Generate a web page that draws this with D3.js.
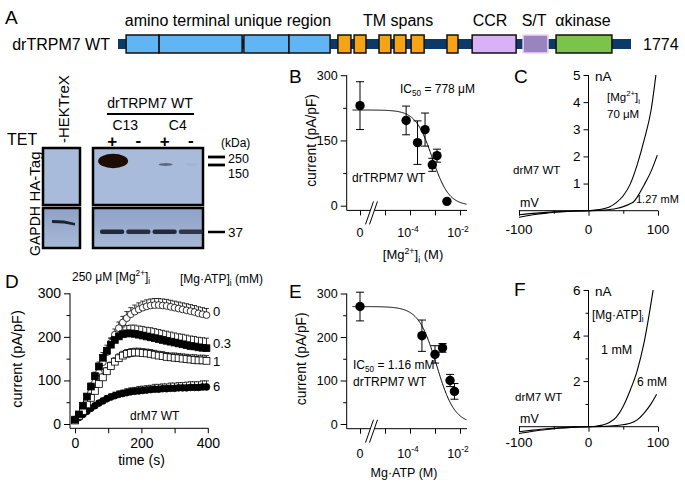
<!DOCTYPE html>
<html><head><meta charset="utf-8">
<script src="https://cdn.jsdelivr.net/npm/d3@7"></script>
<style>body{margin:0;background:#fff}svg{display:block}text{font-family:"Liberation Sans",Arial,Helvetica,sans-serif;fill:#000}</style>
</head><body><svg id="c" width="685" height="484"></svg>
<script>
// ================= DATA =================
// Panel A – domain map (residue numbers)
const proteinLength = 1774;
const domainLabels = ["amino terminal unique region","TM spans","CCR","S/T","\u03b1kinase"];
const domainLabelAt = [381, 969, 1287, 1439, 1608];
const nTermBlocks = [[29,143],[143,430],[436,592],[592,734]];
const tmBlocks = [[761,806],[817,858],[903,944],[955,996],[1014,1059],[1138,1176]];
const ccrBlock = [1225,1377];
const stBlock = [1401,1487];
const kinaseBlock = [1515,1708];
// Panel A – western blot
const blotLanes = ["C13+","C13-","C4+","C4-"];
const tetSigns = ["+","-","+","-"];
const cloneNames = ["C13","C4"];
const haIntensity = [1.0, 0.0, 0.35, 0.03];
const gapdhIntensity = [0.95, 0.9, 0.95, 0.85];
const kDaMarkers = ["250","150","37"];
// Panel B – [Mg2+]i dose response
const mgConc = [0, 7e-5, 2e-4, 4e-4, 7.8e-4, 1.2e-3, 3e-3];
const mgCurrent = [230, 196, 145, 175, 94, 115, 10];
const mgSEM = [55, 33, 50, 38, 15, 15, 0];
const mgFit = {IC50: 778e-6, Imax: 220, hill: 1.3};
// Panel E – Mg·ATP dose response
const atpConc = [0, 3e-4, 1e-3, 2e-3, 4e-3, 6e-3];
const atpCurrent = [270, 203, 160, 175, 100, 75];
const atpSEM = [33, 36, 20, 10, 14, 18];
const atpFit = {IC50: 1.16e-3, Imax: 270, hill: 1.2};
// Panel C – I/V curves (mV, nA)
const ivC70uM_V = [-100,-80,-60,-40,-20,0,10,20,30,40,50,60,70,80,90,97];
const ivC70uM_I = [-0.24,-0.15,-0.09,-0.05,-0.02,0,0.02,0.06,0.14,0.3,0.55,0.98,1.69,2.6,3.7,5.0];
const ivC127mM_V = [-100,-80,-60,-40,-20,0,20,40,50,60,65,70,80,90,99];
const ivC127mM_I = [-0.15,-0.1,-0.06,-0.03,-0.01,0,0.02,0.08,0.15,0.26,0.33,0.5,0.95,1.45,2.05];
// Panel F – I/V curves
const ivF1mM_V = [-100,-80,-60,-40,-20,0,10,20,30,40,50,60,70,80,93];
const ivF1mM_I = [-0.22,-0.15,-0.09,-0.05,-0.02,0,0.02,0.07,0.18,0.42,0.9,1.6,2.45,3.7,6.0];
const ivF6mM_V = [-100,-80,-60,-40,-20,0,20,40,60,70,80,90,98];
const ivF6mM_I = [-0.3,-0.2,-0.12,-0.06,-0.02,0,0.01,0.05,0.15,0.3,0.6,1.0,1.42];
// Panel D – time courses (s, pA/pF)
const timeS = [0,12,24,36,48,60,72,84,96,108,120,132,144,156,168,180,192,204,216,228,240,252,264,276,288,300,312,324,336,348,360,372,384,396];
const tcLabels = ["0","0.3","1","6"];
const tc0   = [10,20,35,52,72,95,118,142,165,186,205,220,233,243,252,258,263,267,270,272,273,273,272,271,269,267,265,263,261,259,257,254,252,250];
const tc0e  = [3,4,5,6,7,8,9,10,11,12,13,14,14,15,15,15,15,15,15,15,15,15,15,15,15,15,15,15,15,15,15,15,15,15];
const tc03  = [10,22,42,63,86,110,132,152,168,182,193,201,206,208,208,207,205,203,201,199,197,195,193,191,189,187,185,183,181,179,178,176,175,174];
const tc03e = [3,4,5,6,8,9,10,12,13,14,15,16,17,18,19,20,20,21,21,22,22,22,22,22,22,22,22,23,23,23,23,23,23,23];
const tc1   = [8,18,30,45,60,76,92,107,121,133,143,151,157,161,163,164,164,163,162,161,159,157,156,154,153,152,151,150,149,148,147,146,146,145];
const tc1e  = [2,3,4,5,5,6,7,8,8,9,9,10,10,10,10,10,10,10,10,10,10,10,10,10,10,11,11,11,11,11,12,12,12,12];
const tc6   = [10,15,22,29,36,42,48,53,58,62,65,68,70,72,74,75,76,77,78,79,80,80,81,81,82,82,83,83,83,84,84,84,85,85];
const tc6e  = [2,3,3,4,5,5,6,6,7,7,8,8,8,9,9,9,10,10,10,10,11,11,11,11,12,12,12,12,13,13,13,13,14,14];

// ================= HELPERS =================
const svg = d3.select("#c");
svg.append("rect").attr("width",685).attr("height",484).attr("fill","#fff");
function txt(g,x,y,s,o={}){
  const t=g.append("text").attr("x",x).attr("y",y).attr("font-size",o.size||13)
    .attr("text-anchor",o.anchor||"start").text(s);
  if(o.weight) t.attr("font-weight",o.weight);
  if(o.rotate) t.attr("transform",`rotate(${o.rotate},${x},${y})`);
  return t;
}
function rich(g,x,y,parts,o={}){
  const size=o.size||13;
  const t=g.append("text").attr("x",x).attr("y",y).attr("font-size",size).attr("text-anchor",o.anchor||"start");
  let cur=0;
  parts.forEach(p=>{
    const [s,k]=Array.isArray(p)?p:[p,null];
    const off=k==="sup"?-size*0.42:k==="sub"?size*0.28:0;
    t.append("tspan").attr("dy",off-cur).attr("font-size",k?size*0.68:size).text(s);
    cur=off;
  });
  if(o.rotate) t.attr("transform",`rotate(${o.rotate},${x},${y})`);
  return t;
}
function styleAxis(a,fs=13){
  a.attr("font-family",null).attr("font-size",null);
  a.select(".domain").remove();
  a.selectAll("line").attr("stroke","#000").attr("stroke-width",1);
  a.selectAll("text").attr("font-size",fs).attr("fill","#000");
  return a;
}
function line(g,x1,y1,x2,y2,w=1){
  g.append("line").attr("x1",x1).attr("y1",y1).attr("x2",x2).attr("y2",y2).attr("stroke","#000").attr("stroke-width",w);
}

// ================= PANEL A: domain map =================
const gA = svg.append("g");
txt(gA,5,24,"A",{size:19});
const xRes = d3.scaleLinear().domain([1,proteinLength]).range([118,631]);
const barY = 44;
gA.append("rect").attr("x",xRes(1)).attr("y",barY-5).attr("width",xRes(proteinLength)-xRes(1)).attr("height",10).attr("fill","#0b3a68");
function blocks(arr,fill,stroke="#111"){
  gA.selectAll(null).data(arr).enter().append("rect")
    .attr("x",d=>xRes(d[0])).attr("y",barY-9).attr("width",d=>xRes(d[1])-xRes(d[0])).attr("height",18)
    .attr("fill",fill).attr("stroke",stroke).attr("stroke-width",1.5);
}
blocks(nTermBlocks,"#62b5f4");
blocks(tmBlocks,"#f6a316");
blocks([ccrBlock],"#d8b1f6");
blocks([stBlock],"#9884bf","#f4d2f2");
blocks([kinaseBlock],"#7cc34c");
domainLabels.forEach((l,i)=>txt(gA,xRes(domainLabelAt[i]),26,l,{anchor:"middle",size:16}));
txt(gA,110,50,"drTRPM7 WT",{anchor:"end",size:16});
txt(gA,xRes(proteinLength)+12,50,String(proteinLength),{size:16});

// ================= PANEL A: western blot =================
const gW = svg.append("g");
const defs = svg.append("defs");
const gr = defs.append("linearGradient").attr("id","gapdhG").attr("x1",0).attr("y1",0).attr("x2",0).attr("y2",1);
gr.append("stop").attr("offset","0%").attr("stop-color","#8ea2c6");
gr.append("stop").attr("offset","100%").attr("stop-color","#a8b9d7");
defs.append("filter").attr("id","blur2").append("feGaussianBlur").attr("stdDeviation",0.7);

const blotRows = {ha:[148,205], gapdh:[208,248]};
const hekX=[43,80], rightX=[93,203];
[["ha","#a9bbda"],["gapdh","url(#gapdhG)"]].forEach(([k,f])=>{
  [hekX,rightX].forEach(xs=>{
    gW.append("rect").attr("x",xs[0]).attr("y",blotRows[k][0]).attr("width",xs[1]-xs[0]).attr("height",blotRows[k][1]-blotRows[k][0])
      .attr("fill",f).attr("stroke","#000").attr("stroke-width",2.5);
  });
});
const lane = d3.scaleBand().domain(blotLanes).range([99,204]);
const lc = l=>lane(l)+lane.bandwidth()/2;
// HA bands
gW.selectAll(null).data(blotLanes.filter((l,i)=>haIntensity[i]>0)).enter().append("ellipse")
  .attr("cx",l=>lc(l)+1).attr("cy",l=>{const v=haIntensity[blotLanes.indexOf(l)];return v>0.5?161:164.5;})
  .attr("rx",l=>{const v=haIntensity[blotLanes.indexOf(l)];return v>0.5?15:6+3*v;})
  .attr("ry",l=>{const v=haIntensity[blotLanes.indexOf(l)];return v>0.5?7.2:1.4;})
  .attr("fill",l=>haIntensity[blotLanes.indexOf(l)]>0.5?"#1f0c04":"#4a5068")
  .attr("opacity",l=>Math.min(1,haIntensity[blotLanes.indexOf(l)]*2.2))
  .attr("filter","url(#blur2)");
// GAPDH bands
gW.selectAll(null).data(blotLanes).enter().append("rect")
  .attr("x",l=>lane(l)+1).attr("y",229.5).attr("width",lane.bandwidth()-2).attr("height",4.5).attr("rx",2)
  .attr("fill","#1a2031").attr("opacity",(l,i)=>gapdhIntensity[i]).attr("filter","url(#blur2)");
gW.append("path").attr("d","M52,220 L64,220.5 L75,223 L75,225.5 L64,223.5 L52,223 Z").attr("fill","#1a2031").attr("filter","url(#blur2)");
// labels
txt(gW,68.5,143,"-HEKTreX",{rotate:-90,size:15});
txt(gW,39.5,176.5,"HA-Tag",{rotate:-90,anchor:"middle",size:15});
txt(gW,39.5,231,"GAPDH",{rotate:-90,anchor:"middle",size:14});
txt(gW,7,145,"TET",{size:16});
tetSigns.forEach((s,i)=>txt(gW,lc(blotLanes[i]),s==="+"?147:145.5,s,{anchor:"middle",size:17,weight:"bold"}));
txt(gW,150,108,"drTRPM7 WT",{anchor:"middle",size:14});
line(gW,107,114,194,114,2);
cloneNames.forEach((c,i)=>txt(gW,(lc(blotLanes[2*i])+lc(blotLanes[2*i+1]))/2,130,c,{anchor:"middle",size:14}));
txt(gW,221,147,"(kDa)",{size:12});
line(gW,208,157,225,157,2.8); line(gW,208,165,225,165,2.8);
txt(gW,228,163,kDaMarkers[0],{size:12.5});
txt(gW,228,177.5,kDaMarkers[1],{size:12.5});
line(gW,208,232,225,232,2.5);
txt(gW,228,237,kDaMarkers[2],{size:13.5});

// ================= PANELS B & E =================
function doseResponse(cfg){
  const g=svg.append("g");
  txt(g,cfg.letterX,cfg.letterY,cfg.letter,{size:19});
  const y=d3.scaleLinear().domain([0,300]).range([cfg.y0,cfg.y0-130.5]);
  const x=d3.scaleLog().domain([1e-6,1e-2]).range([360,460]);
  const axX=346.7, axY=cfg.y0+4.7, xEnd=x(10**-1.72);
  line(g,axX,y(300),axX,axY); line(g,axX,axY,xEnd,axY);
  styleAxis(g.append("g").attr("transform",`translate(${axX},0)`)
    .call(d3.axisLeft(y).tickValues(cfg.majY).tickSize(6).tickPadding(3).tickFormat(d3.format("d"))),12.5);
  styleAxis(g.append("g").attr("transform",`translate(${axX},0)`)
    .call(d3.axisLeft(y).tickValues(cfg.minY).tickSize(3.5).tickFormat("")));
  styleAxis(g.append("g").attr("transform",`translate(0,${axY})`)
    .call(d3.axisBottom(x).tickValues([1e-6,1e-5,1e-4,1e-3,1e-2]).tickSize(5).tickFormat("")));
  // axis break
  const bx=371.5;
  g.append("polygon").attr("points",`${bx-6},${axY+14} ${bx-2},${axY+14} ${bx+6},${axY-9} ${bx+2},${axY-9}`).attr("fill","#fff");
  line(g,bx-6,axY+14,bx+2,axY-9); line(g,bx-2,axY+14,bx+6,axY-9);
  // tick labels
  const ly=axY+cfg.tickLblDy;
  txt(g,x(1e-6),ly,"0",{anchor:"middle",size:12.5});
  rich(g,x(1e-4)-2,ly,["10",["-4","sup"]],{anchor:"middle",size:12.5});
  rich(g,x(1e-2)-2,ly,["10",["-2","sup"]],{anchor:"middle",size:12.5});
  rich(g,cfg.xLblX,cfg.xLblY,cfg.xLabel,{anchor:"middle",size:cfg.xLblSize});
  txt(g,cfg.yLblX,(y(0)+y(300))/2,"current (pA/pF)",{rotate:-90,anchor:"middle",size:13.8});
  // fit curve
  const logs=d3.range(-6.3,-1.72,0.02);
  const pts=logs.map(l=>{const c=10**l;return [x(c),y(cfg.fit.Imax/(1+Math.pow(c/cfg.fit.IC50,cfg.fit.hill)))];});
  g.append("path").attr("d",d3.line()(pts)).attr("fill","none").attr("stroke","#000").attr("stroke-width",1);
  // data
  const px=c=>c===0?x(1e-6):x(c);
  cfg.conc.forEach((c,i)=>{
    const e=cfg.sem[i];
    if(e>0){
      line(g,px(c),y(cfg.vals[i]-e),px(c),y(cfg.vals[i]+e));
      line(g,px(c)-4,y(cfg.vals[i]+e),px(c)+4,y(cfg.vals[i]+e));
      line(g,px(c)-4,y(cfg.vals[i]-e),px(c)+4,y(cfg.vals[i]-e));
    }
  });
  g.selectAll(null).data(cfg.conc).enter().append("circle")
    .attr("cx",px).attr("cy",(c,i)=>y(cfg.vals[i])).attr("r",4.7).attr("fill","#000");
  return g;
}
const gB=doseResponse({letter:"B",letterX:289,letterY:83,y0:205.7,majY:[0,150,300],minY:[75,225],
  conc:mgConc,vals:mgCurrent,sem:mgSEM,fit:mgFit,tickLblDy:27,xLblX:413,xLblY:259,xLblSize:13,yLblX:316.5,
  xLabel:["[Mg",["2+","sup"],"]",["i","sub"]," (M)"]});
rich(gB,400,93,["IC",["50","sub"]," = 778 \u03bcM"],{size:12});
txt(gB,352,182,"drTRPM7 WT",{size:12});
const gE=doseResponse({letter:"E",letterX:289,letterY:298,y0:424,majY:[0,100,200,300],minY:[50,150,250],
  conc:atpConc,vals:atpCurrent,sem:atpSEM,fit:atpFit,tickLblDy:29,xLblX:404,xLblY:477,xLblSize:12.5,yLblX:306,
  xLabel:["Mg\u00b7ATP (M)"]});
rich(gE,353,369,["IC",["50","sub"]," = 1.16 mM"],{size:12});
txt(gE,353,386,"drTRPM7 WT",{size:12});

// ================= PANELS C & F =================
function ivPanel(cfg){
  const g=svg.append("g");
  txt(g,514,cfg.letterY,cfg.letter,{size:19});
  const x=d3.scaleLinear().domain([-100,100]).range([519,658]);
  const y=d3.scaleLinear().domain([0,cfg.ymax]).range([cfg.y0,cfg.ytop]);
  line(g,x(-100),y(0),x(100),y(0)); line(g,x(0),y(cfg.ymax),x(0),y(0));
  styleAxis(g.append("g").attr("transform",`translate(${x(0)},0)`)
    .call(d3.axisLeft(y).tickValues(cfg.majY).tickSize(5).tickPadding(3).tickFormat(d3.format("d"))),13.5);
  if(cfg.minY) styleAxis(g.append("g").attr("transform",`translate(${x(0)},0)`)
    .call(d3.axisLeft(y).tickValues(cfg.minY).tickSize(3).tickFormat("")));
  styleAxis(g.append("g").attr("transform",`translate(0,${y(0)})`)
    .call(d3.axisBottom(x).tickValues([-100,0,100]).tickSize(5).tickFormat("")));
  styleAxis(g.append("g").attr("transform",`translate(0,${y(0)})`)
    .call(d3.axisBottom(x).tickValues([-50,50]).tickSize(3).tickFormat("")));
  [-100,0,100].forEach(v=>txt(g,x(v),y(0)+cfg.tickLblDy,String(v),{anchor:"middle",size:13.5}));
  txt(g,595,y(cfg.ymax)+6,"nA",{size:13.5});
  txt(g,520,y(0)-4,"mV",{size:12.5});
  const ln=d3.line().x(d=>x(d[0])).y(d=>y(d[1])).curve(d3.curveMonotoneX);
  cfg.curves.forEach(c=>{
    g.append("path").attr("d",ln(c[0].map((v,i)=>[v,c[1][i]]))).attr("fill","none").attr("stroke","#000").attr("stroke-width",1.1);
  });
  return g;
}
const gC=ivPanel({letter:"C",letterY:83,ymax:5,y0:210.7,ytop:75,majY:[1,2,3,4,5],tickLblDy:23,
  curves:[[ivC70uM_V,ivC70uM_I],[ivC127mM_V,ivC127mM_I]]});
rich(gC,607,101,["[Mg",["2+","sup"],"]",["i","sub"]],{size:11.5});
txt(gC,607,118,"70 \u03bcM",{size:11.5});
txt(gC,636,203,"1.27 mM",{size:11});
txt(gC,513,174,"drM7 WT",{size:11.5});
const gF=ivPanel({letter:"F",letterY:296,ymax:6,y0:426.7,ytop:290,majY:[2,4,6],minY:[1,3,5],tickLblDy:20,
  curves:[[ivF1mM_V,ivF1mM_I],[ivF6mM_V,ivF6mM_I]]});
rich(gF,592,319,["[Mg\u00b7ATP]",["i","sub"]],{size:12});
txt(gF,601,354,"1 mM",{size:12.5});
txt(gF,637,386,"6 mM",{size:12});
txt(gF,515,401,"drM7 WT",{size:11.5});

// ================= PANEL D =================
const gD=svg.append("g");
txt(gD,5,288,"D",{size:19});
const xD=d3.scaleLinear().domain([0,400]).range([75,207.8]);
const yD=d3.scaleLinear().domain([0,300]).range([424,293.3]);
const dAxX=70, dAxY=428.3;
line(gD,dAxX,yD(300),dAxX,dAxY); line(gD,dAxX,dAxY,208.5,dAxY);
styleAxis(gD.append("g").attr("transform",`translate(${dAxX},0)`)
  .call(d3.axisLeft(yD).tickValues([0,100,200,300]).tickSize(6).tickPadding(3).tickFormat(d3.format("d"))),14);
styleAxis(gD.append("g").attr("transform",`translate(${dAxX},0)`)
  .call(d3.axisLeft(yD).tickValues([50,150,250]).tickSize(3.5).tickFormat("")));
styleAxis(gD.append("g").attr("transform",`translate(0,${dAxY})`)
  .call(d3.axisBottom(xD).tickValues([0,200,400]).tickSize(5).tickPadding(5).tickFormat(d3.format("d"))),14);
styleAxis(gD.append("g").attr("transform",`translate(0,${dAxY})`)
  .call(d3.axisBottom(xD).tickValues([100,300]).tickSize(5).tickFormat("")));
txt(gD,141.5,465,"time (s)",{anchor:"middle",size:14});
txt(gD,22,359,"current (pA/pF)",{rotate:-90,anchor:"middle",size:14.5});
rich(gD,72,281,["250 \u03bcM [Mg",["2+","sup"],"]",["i","sub"]],{size:12});
rich(gD,180,283,["[Mg\u00b7ATP]",["i","sub"]," (mM)"],{size:12});
txt(gD,130,420,"drM7 WT",{size:12});
const seriesD=[
  {v:tc0,e:tc0e,shape:"circle",fill:"#fff",lblY:316},
  {v:tc03,e:tc03e,shape:"square",fill:"#000",lblY:348},
  {v:tc1,e:tc1e,shape:"square",fill:"#fff",lblY:366},
  {v:tc6,e:tc6e,shape:"circle",fill:"#000",lblY:391}];
// error bars (upward)
seriesD.forEach(s=>{
  timeS.forEach((t,i)=>{
    const xx=xD(t);
    line(gD,xx,yD(s.v[i]),xx,yD(s.v[i]+s.e[i]),0.8);
    line(gD,xx-2.5,yD(s.v[i]+s.e[i]),xx+2.5,yD(s.v[i]+s.e[i]),0.8);
  });
});
[3,0,2,1].forEach(k=>{
  const s=seriesD[k];
  timeS.forEach((t,i)=>{
    const xx=xD(t), yy=yD(s.v[i]);
    if(s.shape==="circle") gD.append("circle").attr("cx",xx).attr("cy",yy).attr("r",3.4).attr("fill",s.fill).attr("stroke","#000").attr("stroke-width",0.8);
    else gD.append("rect").attr("x",xx-3.4).attr("y",yy-3.4).attr("width",6.8).attr("height",6.8).attr("fill",s.fill).attr("stroke","#000").attr("stroke-width",0.8);
  });
  txt(gD,213,s.lblY,tcLabels[k],{size:13});
});
</script></body></html>
